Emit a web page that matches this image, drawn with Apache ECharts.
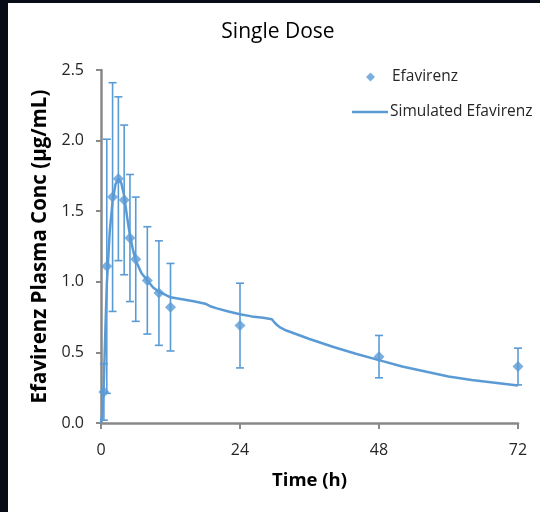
<!DOCTYPE html>
<html>
<head>
<meta charset="utf-8">
<script src="https://cdn.jsdelivr.net/npm/echarts@6/dist/echarts.min.js"></script>
<style>
  html, body { margin: 0; padding: 0; background: #070c16; width: 540px; height: 512px; overflow: hidden; }
  #chart { position: absolute; left: 8px; top: 3px; width: 532px; height: 509px; background: #ffffff; }
</style>
</head>
<body>
<div id="chart"></div>
<script>
// Observed efavirenz plasma concentrations (mean ± SD), µg/mL
const obsTime = [0.5, 1, 2, 3, 4, 5, 6, 8, 10, 12, 24, 48, 72];
const obsMean = [0.22, 1.11, 1.60, 1.73, 1.58, 1.31, 1.16, 1.01, 0.92, 0.82, 0.69, 0.47, 0.40];
const obsSD   = [0.20, 0.90, 0.81, 0.58, 0.53, 0.45, 0.44, 0.38, 0.37, 0.31, 0.30, 0.15, 0.13];

// Simulated concentration-time profile
const simTime = [0, 0.25, 0.5, 0.75, 1, 1.5, 2, 2.5, 3, 3.5, 4, 4.5, 5, 5.5, 6, 7, 8, 9, 10, 12, 14, 16, 18, 19, 20, 22, 24, 26, 28, 29.5, 30, 30.5, 31, 32, 34, 36, 40, 44, 48, 52, 56, 60, 64, 68, 72];
const simConc = [0, 0.08, 0.30, 0.65, 0.98, 1.35, 1.57, 1.69, 1.73, 1.70, 1.61, 1.46, 1.33, 1.23, 1.15, 1.06, 1.01, 0.96, 0.93, 0.89, 0.877, 0.862, 0.845, 0.825, 0.812, 0.79, 0.77, 0.755, 0.745, 0.735, 0.71, 0.69, 0.675, 0.655, 0.625, 0.595, 0.54, 0.49, 0.445, 0.40, 0.365, 0.33, 0.305, 0.285, 0.265];

// Axis ticks
const xTicks = [0, 24, 48, 72];
const yTicks = [0, 0.5, 1.0, 1.5, 2.0, 2.5];

const BLUE = '#5b9bd5';
const AXIS = '#898989';
const FONT = '"Open Sans", Lato, sans-serif';
const TEXT = '#262626';

const obsData = obsTime.map((t, i) => [t, obsMean[i]]);
const errData = obsTime.map((t, i) => [t, obsMean[i] - obsSD[i], obsMean[i] + obsSD[i]]);
const simData = simTime.map((t, i) => [t, simConc[i]]);

const chart = echarts.init(document.getElementById('chart'), null, { renderer: 'canvas' });

chart.setOption({
  animation: false,
  backgroundColor: '#ffffff',
  title: {
    text: 'Single Dose',
    left: 270, top: 19, padding: 0,
    textAlign: 'center',
    textStyle: { fontFamily: FONT, fontSize: 21, fontWeight: 'normal', color: '#000000' }
  },
  legend: [
    {
      data: [{ name: 'Efavirenz', icon: 'diamond' }],
      left: 358, top: 66, padding: 0,
      itemWidth: 9, itemHeight: 9,
      textStyle: { fontFamily: FONT, fontSize: 15.5, color: TEXT, padding: [0, 0, 0, 12] }
    },
    {
      data: [{ name: 'Simulated Efavirenz', icon: 'rect' }],
      left: 344, top: 101, padding: 0,
      itemWidth: 36, itemHeight: 2.5,
      textStyle: { fontFamily: FONT, fontSize: 15.5, color: TEXT, padding: [0, 0, 0, -3] }
    }
  ],
  grid: { left: 93, right: 22, top: 67, bottom: 89, containLabel: false },
  xAxis: {
    type: 'value',
    min: 0, max: 72, interval: 24,
    name: 'Time (h)',
    nameLocation: 'middle',
    nameGap: 48,
    nameTextStyle: { fontFamily: FONT, fontSize: 18.5, fontWeight: 'bold', color: '#000000' },
    axisLine: { lineStyle: { color: AXIS, width: 2.5 } },
    axisTick: { show: true, inside: false, length: 6, lineStyle: { color: AXIS, width: 2 } },
    axisLabel: {
      margin: 19, fontFamily: FONT, fontSize: 16, color: TEXT,
      customValues: xTicks
    },
    splitLine: { show: false }
  },
  yAxis: {
    type: 'value',
    min: 0, max: 2.5, interval: 0.5,
    name: 'Efavirenz Plasma Conc (µg/mL)',
    nameLocation: 'middle',
    nameGap: 38,
    nameTextStyle: { fontFamily: FONT, fontSize: 20.5, fontWeight: 'bold', color: '#000000' },
    axisLine: { show: true, lineStyle: { color: AXIS, width: 2.5 } },
    axisTick: { show: true, inside: false, length: 5, lineStyle: { color: AXIS, width: 2 } },
    axisLabel: {
      margin: 17, fontFamily: FONT, fontSize: 16, color: TEXT,
      customValues: yTicks,
      formatter: v => v.toFixed(1)
    },
    splitLine: { show: false }
  },
  series: [
    {
      name: 'Simulated Efavirenz',
      type: 'line',
      data: simData,
      showSymbol: false,
      smooth: false,
      color: BLUE,
      lineStyle: { color: BLUE, width: 2.5 },
      z: 2
    },
    {
      name: 'Efavirenz SD',
      type: 'custom',
      data: errData,
      encode: { x: 0, y: [1, 2] },
      renderItem: function (params, api) {
        const x = api.value(0);
        const lo = api.coord([x, api.value(1)]);
        const hi = api.coord([x, api.value(2)]);
        const half = 4;
        const style = { stroke: BLUE, lineWidth: 1.6, fill: null };
        return {
          type: 'group',
          children: [
            { type: 'line', shape: { x1: lo[0], y1: lo[1], x2: hi[0], y2: hi[1] }, style: style },
            { type: 'line', shape: { x1: lo[0] - half, y1: lo[1], x2: lo[0] + half, y2: lo[1] }, style: style },
            { type: 'line', shape: { x1: hi[0] - half, y1: hi[1], x2: hi[0] + half, y2: hi[1] }, style: style }
          ]
        };
      },
      z: 3
    },
    {
      name: 'Efavirenz',
      type: 'scatter',
      data: obsData,
      symbol: 'diamond',
      symbolSize: 11,
      color: BLUE,
      itemStyle: { color: BLUE },
      z: 4
    }
  ]
});
</script>
</body>
</html>
